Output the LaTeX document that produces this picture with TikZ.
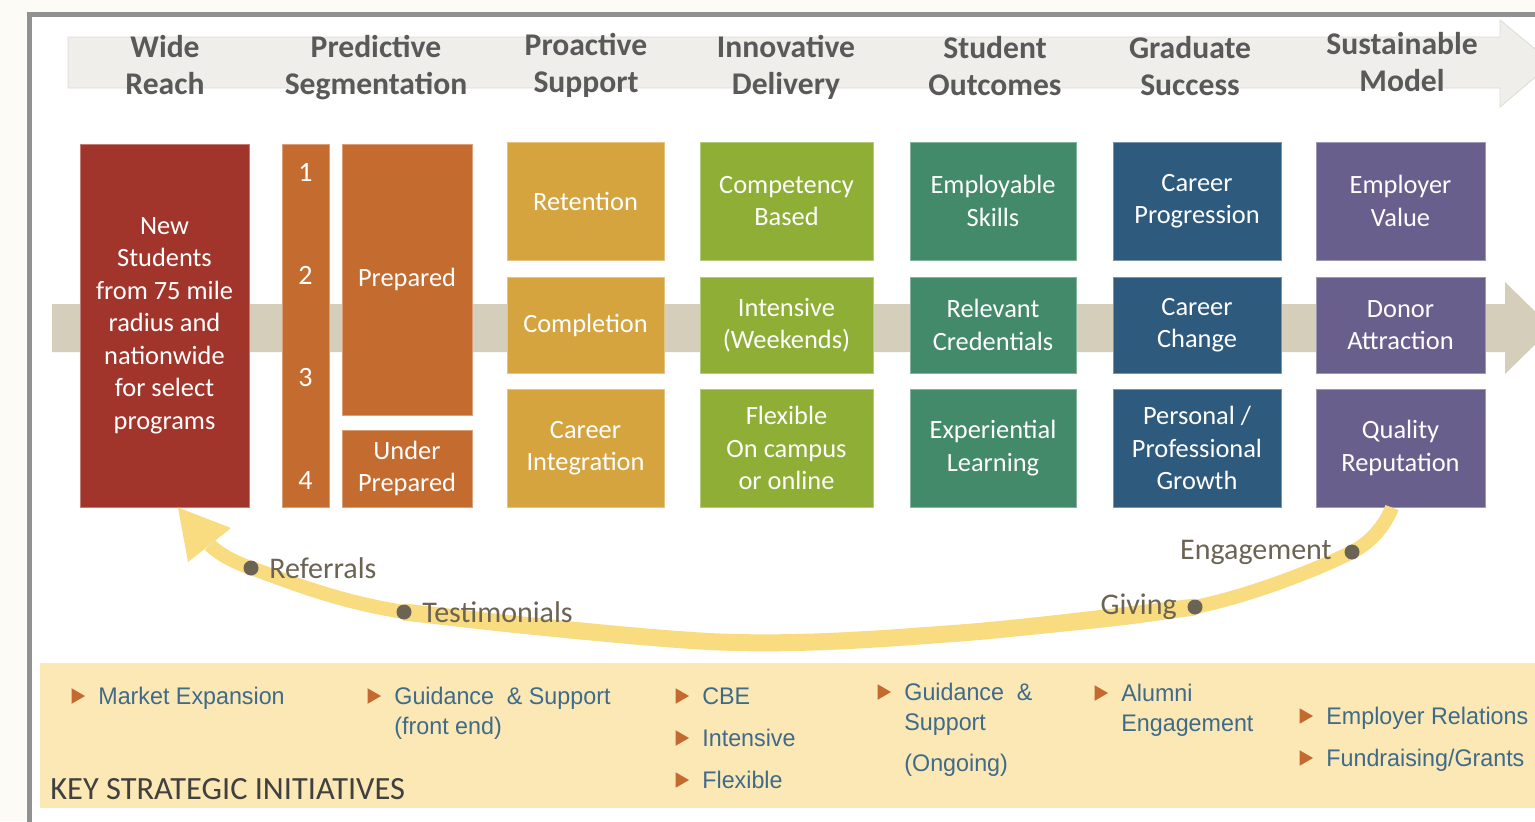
\documentclass[tikz,border=0pt]{standalone}
\usepackage{fontspec}
\setmainfont{Carlito}
\newfontfamily\arialfont[FakeStretch=0.97]{Liberation Sans}
\usetikzlibrary{positioning}
\usetikzlibrary{shapes.geometric}

\definecolor{pagec}{HTML}{FCFBF6}
\definecolor{framec}{HTML}{909193}
\definecolor{bandc}{HTML}{EFEEEA}
\definecolor{tanc}{HTML}{D5CEBB}
\definecolor{hdrc}{HTML}{595959}
\definecolor{redc}{HTML}{A2352B}
\definecolor{orgc}{HTML}{C46C30}
\definecolor{goldc}{HTML}{D5A43F}
\definecolor{grnc}{HTML}{8FAE36}
\definecolor{teac}{HTML}{428A69}
\definecolor{bluc}{HTML}{2E5A7E}
\definecolor{purc}{HTML}{695F8C}
\definecolor{loopc}{HTML}{F9DB80}
\definecolor{dotc}{HTML}{6B6353}
\definecolor{panelc}{HTML}{FCE8B5}
\definecolor{bulc}{HTML}{C4692F}
\definecolor{itmc}{HTML}{3E6B8B}
\definecolor{keyc}{HTML}{404040}

\tikzset{
  hdr/.style={text=hdrc, align=center, inner sep=0pt, font=\fontsize{15.8}{18.5}\selectfont\bfseries},
  blk/.style={fill=#1, draw=#1!65!white, line width=0.5pt, text=white, align=center, inner sep=0pt,
    font=\fontsize{13.2}{16.25}\selectfont},
  num/.style={text=white, inner sep=0pt, font=\fontsize{14}{16}\selectfont},
  dot/.style={circle, fill=dotc, inner sep=0pt, minimum size=7.5pt},
  lbl/.style={text=dotc, inner sep=0pt, font=\fontsize{15}{17}\selectfont},
  tri/.style={regular polygon, regular polygon sides=3, shape border rotate=-90, fill=bulc,
    inner sep=0pt, minimum size=9pt},
  itm/.style={anchor=north west, inner sep=0pt, align=left, text=itmc,
    font=\arialfont\fontsize{12}{15}\selectfont},
}

\begin{document}
\begin{tikzpicture}[x=0.5pt, y=-0.5pt]
\useasboundingbox (0,0) rectangle (1535,821);
\clip (0,0) rectangle (1535,821);
\fill[pagec] (0,0) rectangle (1535,821);
\fill[white] (29,14) rectangle (1535,821);
\draw[framec, line width=2.5pt] (29,830) -- (29,14) -- (1545,14);

\filldraw[fill=bandc, draw=bandc!92!black, line width=0.4pt]
  (68,37) -- (1500,37) -- (1500,20) -- (1552,63) -- (1500,107) -- (1500,88) -- (68,88) -- cycle;
\foreach \x/\y/\txt [count=\i] in {165/65/{Wide\\Reach}, 376/68/{Predictive\\Segmentation},
  586/65/{Proactive\\Support}, 786/67/{Innovative\\Delivery}, 995/66/{Student\\Outcomes},
  1190/66/{Graduate\\Success}, 1402/62/{Sustainable\\Model}}
  \node[hdr] (hd\i) at (\x,\y) {\txt};

\fill[tanc] (52,304) -- (1505,304) -- (1505,282) -- (1552,328) -- (1505,374) -- (1505,352) -- (52,352) -- cycle;

\node[blk=redc, minimum width=84.5pt, minimum height=181.5pt] (wr) at (164.5,325.5)
  {New\\Students\\from 75 mile\\radius and\\nationwide\\for select\\programs};
\node[blk=orgc, minimum width=23.5pt, minimum height=181.5pt] (seg) at (305.5,325.5) {};
\foreach \n/\y in {1/172,2/275,3/377,4/480}
  \node[num] (n\n) at (305.5,\y) {\n};
\node[blk=orgc, minimum width=65pt, minimum height=135.5pt] (pr) at (407,279.5) {Prepared};
\node[blk=orgc, minimum width=65pt, minimum height=38.5pt] (up) at (407,468.5) {Under\\Prepared};

\foreach \cx/\w/\col/\nm/\txa/\txb/\txc in {
  585.5/157/goldc/ps/{Retention}/{Completion}/{Career\\Integration},
  786.5/173/grnc/id/{Competency\\Based}/{Intensive\\(Weekends)}/{Flexible\\On campus\\or online},
  993/166/teac/so/{Employable\\Skills}/{Relevant\\Credentials}/{Experiential\\Learning},
  1197/168/bluc/gs/{Career\\Progression}/{Career\\Change}/{Personal /\\Professional\\Growth},
  1400.5/169/purc/sm/{Employer\\Value}/{Donor\\Attraction}/{Quality\\Reputation}}
{
  \node[blk=\col, minimum width=\w*0.5pt, minimum height=59pt] (\nm-1) at (\cx,201) {\txa};
  \node[blk=\col, minimum width=\w*0.5pt, minimum height=48pt] (\nm-2) at (\cx,325) {\txb};
  \node[blk=\col, minimum width=\w*0.5pt, minimum height=59pt] (\nm-3) at (\cx,448) {\txc};
}

\coordinate (start) at ([xshift=-4.25pt]sm-3.south);
\coordinate (eng) at (1352,552);
\coordinate (giv) at (1195,607);
\coordinate (mid) at (960,633);
\coordinate (low) at (720,642);
\coordinate (tes) at (404,612);
\coordinate (ref) at (251,568);
\coordinate (base) at (210,545);
\coordinate (tip) at (wr.south -| 178,0);
\coordinate (wa) at (231,528);
\coordinate (wb) at (188,562);
\draw[loopc, line width=7pt] plot[smooth, tension=0.55]
  coordinates {(start) (eng) (giv) (mid) (low) (tes) (ref) (base)};
\draw[loopc, line width=8.5pt] plot[smooth, tension=0.55]
  coordinates {(giv) (mid) (low) (tes)};
\fill[loopc] (tip) -- (wa) -- (wb) -- cycle;

\node[dot] (engdot) at (eng) {};
\node[dot] (givdot) at (giv) {};
\node[dot] (tesdot) at (tes) {};
\node[dot] (refdot) at (ref) {};
\node[lbl, left=6pt of engdot] (englbl) {Engagement};
\node[lbl, left=5pt of givdot] (givlbl) {Giving};
\node[lbl, right=5pt of tesdot] (teslbl) {Testimonials};
\node[lbl, right=5pt of refdot] (reflbl) {Referrals};

\fill[panelc] (40,663) rectangle (1545,808);
\node[anchor=west, inner sep=0pt, text=keyc, font=\fontsize{16.2}{18}\selectfont] (key) at (50,789)
  {KEY STRATEGIC INITIATIVES};
\foreach \x/\y/\txt [count=\i] in {98/696/{Market Expansion}, 394/696/{Guidance~ \& Support\\(front end)},
  702/696/CBE, 702/738/Intensive, 702/780/Flexible, 904/692/{Guidance~ \&\\Support\\[5.5pt](Ongoing)},
  1121/693/{Alumni\\Engagement}, 1326/716/{Employer Relations}, 1326/758/{Fundraising/Grants}}
{
  \node[tri] (tr\i) at (\x-22,\y) {};
  \node[itm] (it\i) at (\x,\y-9) {\txt};
}
\end{tikzpicture}
\end{document}
